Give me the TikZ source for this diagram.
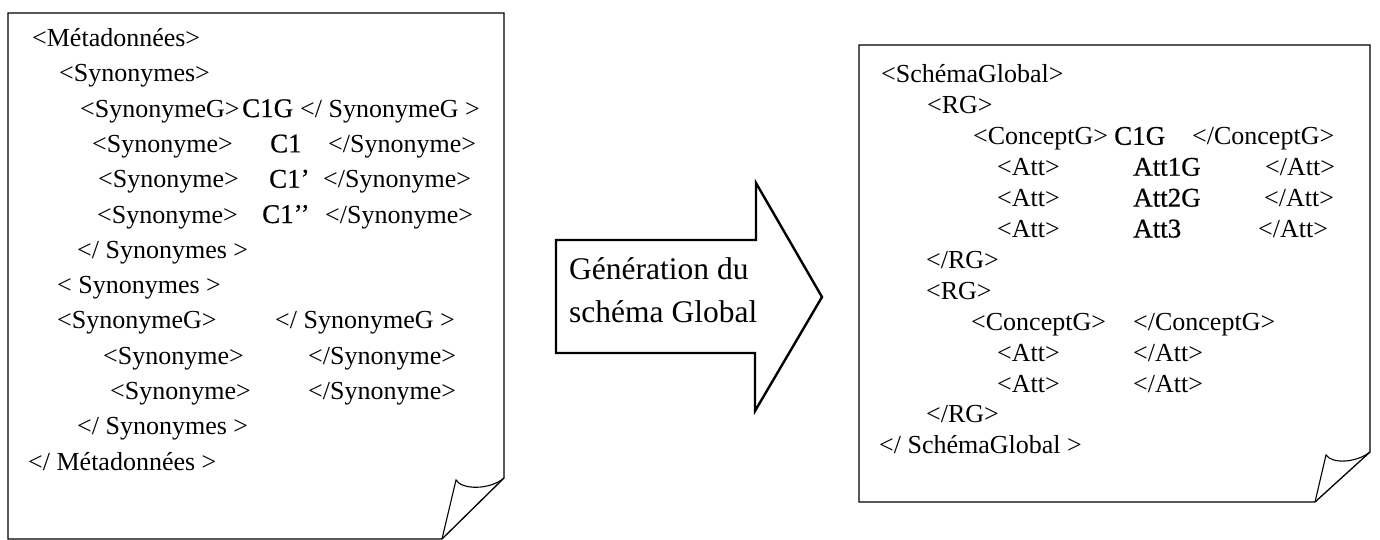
\documentclass[tikz,border=0pt]{standalone}
\usepackage{fontspec}
\setmainfont{Liberation Serif}
\newfontfamily\valuefont[FakeBold=0.6]{Liberation Serif}
\begin{document}
\begin{tikzpicture}[x=1pt,y=-1pt,
  page/.style={line width=1.3pt, line join=miter},
  curl/.style={line width=1.1pt},
  banner/.style={line width=2.4pt, line join=miter},
  tag/.style={anchor=base west, inner sep=0pt, font=\fontsize{26}{30}\selectfont},
  val/.style={anchor=base west, inner sep=0pt, font=\valuefont\fontsize{27}{30}\selectfont},
  caption/.style={anchor=base west, inner sep=0pt, font=\fontsize{31.5}{36}\selectfont}]
\useasboundingbox (0,0) rectangle (1380,540);

% ---------- metadata page ----------
\coordinate (mTL) at (8,13);
\coordinate (mTR) at (504,13);
\coordinate (mC)  at (504,478);
\coordinate (mF)  at (456,480);
\coordinate (mT)  at (442,539);
\coordinate (mBL) at (8,539);
\draw[page] (mT) -- (mBL) -- (mTL) -- (mTR) -- (mC) -- (mT);
\draw[curl] (mC) .. controls (490,490) and (462,490) .. (mF) -- (mT);

\node[tag] (m0)  at (32,46.5)  {<Métadonnées>};
\node[tag] (m1)  at (59,81.8)  {<Synonymes>};
\node[tag] (m2a) at (80,117.1) {<SynonymeG>};
\node[val] (m2b) at (242,117.1) {C1G};
\node[tag] (m2c) at (300,117.1) {</ SynonymeG >};
\node[tag] (m3a) at (92,152.4) {<Synonyme>};
\node[val] (m3b) at (270,152.4) {C1};
\node[tag] (m3c) at (328,152.4) {</Synonyme>};
\node[tag] (m4a) at (98,187.7) {<Synonyme>};
\node[val] (m4b) at (269,187.7) {C1’};
\node[tag] (m4c) at (323,187.7) {</Synonyme>};
\node[tag] (m5a) at (97,223) {<Synonyme>};
\node[val] (m5b) at (262,223) {C1’’};
\node[tag] (m5c) at (325,223) {</Synonyme>};
\node[tag] (m6)  at (77,258.3) {</ Synonymes >};
\node[tag] (m7)  at (57,293.6) {< Synonymes >};
\node[tag] (m8a) at (57,328.9) {<SynonymeG>};
\node[tag] (m8c) at (275,328.9) {</ SynonymeG >};
\node[tag] (m9a) at (103,364.2) {<Synonyme>};
\node[tag] (m9c) at (308,364.2) {</Synonyme>};
\node[tag] (m10a) at (110,399.5) {<Synonyme>};
\node[tag] (m10c) at (308,399.5) {</Synonyme>};
\node[tag] (m11) at (77,434.8) {</ Synonymes >};
\node[tag] (m12) at (28,470.1) {</ Métadonnées >};

% ---------- generation arrow ----------
\coordinate (a1) at (556,240);
\coordinate (a2) at (756,240);
\coordinate (a3) at (756,183);
\coordinate (a4) at (822,297);
\coordinate (a5) at (755,411);
\coordinate (a6) at (755,353);
\coordinate (a7) at (556,353);
\draw[banner] (a1) -- (a2) -- (a3) -- (a4) -- (a5) -- (a6) -- (a7) -- cycle;
\node[caption] (g1) at (569,279) {Génération du};
\node[caption] (g2) at (569,322) {schéma Global};

% ---------- global schema page ----------
\coordinate (sTL) at (859,45);
\coordinate (sTR) at (1370,45);
\coordinate (sC)  at (1370,452);
\coordinate (sF)  at (1326,455);
\coordinate (sT)  at (1315,502);
\coordinate (sBL) at (859,502);
\draw[page] (sT) -- (sBL) -- (sTL) -- (sTR) -- (sC) -- (sT);
\draw[curl] (sC) .. controls (1356,463) and (1332,464) .. (sF) -- (sT);

\node[tag] (s0)  at (881,83)    {<SchémaGlobal>};
\node[tag] (s1)  at (927,113.9) {<RG>};
\node[tag] (s2a) at (973,144.8) {<ConceptG>};
\node[val] (s2b) at (1114,144.8) {C1G};
\node[tag] (s2c) at (1192,144.8) {</ConceptG>};
\node[tag] (s3a) at (997,175.7) {<Att>};
\node[val] (s3b) at (1133,175.7) {Att1G};
\node[tag] (s3c) at (1265,175.7) {</Att>};
\node[tag] (s4a) at (997,206.6) {<Att>};
\node[val] (s4b) at (1133,206.6) {Att2G};
\node[tag] (s4c) at (1264,206.6) {</Att>};
\node[tag] (s5a) at (997,237.5) {<Att>};
\node[val] (s5b) at (1133,237.5) {Att3};
\node[tag] (s5c) at (1258,237.5) {</Att>};
\node[tag] (s6)  at (926,268.4) {</RG>};
\node[tag] (s7)  at (926,299.3) {<RG>};
\node[tag] (s8a) at (971,330.2) {<ConceptG>};
\node[tag] (s8c) at (1133,330.2) {</ConceptG>};
\node[tag] (s9a) at (997,361.1) {<Att>};
\node[tag] (s9c) at (1133,361.1) {</Att>};
\node[tag] (s10a) at (997,392) {<Att>};
\node[tag] (s10c) at (1133,392) {</Att>};
\node[tag] (s11) at (926,422.9) {</RG>};
\node[tag] (s12) at (879,453.8) {</ SchémaGlobal >};
\end{tikzpicture}
\end{document}
